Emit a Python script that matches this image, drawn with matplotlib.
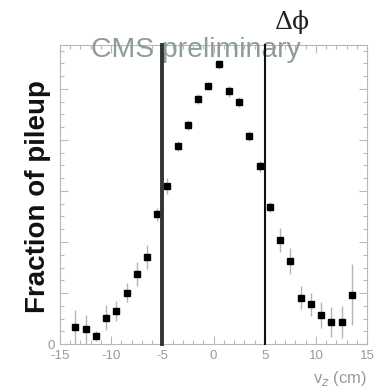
import matplotlib
matplotlib.use("Agg")
import matplotlib.pyplot as plt
from matplotlib.ticker import MultipleLocator, FixedLocator, FixedFormatter

# Pileup fraction per 1 cm bin of vertex z
vz = [-13.5, -12.5, -11.5, -10.5, -9.5, -8.5, -7.5, -6.5, -5.5, -4.5, -3.5, -2.5,
      -1.5, -0.5, 0.5, 1.5, 2.5, 3.5, 4.5, 5.5, 6.5, 7.5, 8.5, 9.5, 10.5, 11.5,
      12.5, 13.5]
frac = [0.33, 0.29, 0.16, 0.52, 0.65, 1.01, 1.37, 1.71, 2.54, 3.10, 3.88, 4.29,
        4.81, 5.05, 5.48, 4.95, 4.75, 4.08, 3.48, 2.68, 2.04, 1.63, 0.91, 0.78,
        0.57, 0.43, 0.43, 0.97]
err = [0.34, 0.28, 0.10, 0.24, 0.20, 0.18, 0.24, 0.24, 0.12, 0.16, 0.10, 0.10,
       0.10, 0.08, 0.08, 0.10, 0.10, 0.10, 0.10, 0.10, 0.24, 0.26, 0.23, 0.23,
       0.25, 0.30, 0.31, 0.59]

cut_lo, cut_hi = -5, 5
x_ticks = [-15, -10, -5, 0, 5, 10, 15]
x_ticklabels = ["-15", "-10", "-5", "0", "5", "10", "15"]
y_ticks = [0, 1, 2, 3, 4, 5]
y_ticklabels = ["0", "", "", "", "", ""]

grey_txt = "#9a9a9a"
frame_c = "#b8b8b8"

fig = plt.figure(figsize=(3.75, 3.87), dpi=100)
ax = fig.add_axes([0.16, 0.111, 0.819, 0.7726])

ax.errorbar(vz, frac, yerr=err, fmt="s", color="black", ms=4.2,
            ecolor="#b5b5b5", elinewidth=1.0, capsize=0, zorder=3)

# vertex-window cut lines, drawn above the overlay title
ax.axvline(cut_lo, color="#333333", lw=2.8, zorder=5, clip_on=False)
ax.axvline(cut_hi, color="#111111", lw=1.5, zorder=5, clip_on=False)

ax.set_xlim(-15, 15)
ax.set_ylim(0, 5.86)

ax.xaxis.set_major_locator(FixedLocator(x_ticks))
ax.xaxis.set_major_formatter(FixedFormatter(x_ticklabels))
ax.xaxis.set_minor_locator(MultipleLocator(1))
ax.yaxis.set_major_locator(FixedLocator(y_ticks))
ax.yaxis.set_major_formatter(FixedFormatter(y_ticklabels))
ax.yaxis.set_minor_locator(MultipleLocator(0.25))

ax.tick_params(which="both", direction="in", top=True, right=True,
               color=frame_c, labelcolor=grey_txt, labelsize=9.5,
               labelfontfamily="Liberation Sans")
ax.tick_params(which="major", length=6, width=0.8)
ax.tick_params(which="minor", length=3, width=0.8)
ax.tick_params(axis="x", pad=4)
ax.tick_params(axis="y", pad=4)
for s in ax.spines.values():
    s.set_color(frame_c)
    s.set_linewidth(0.8)

ax.text(0.523, 0.853, "CMS preliminary", color="#8d9b9b", fontsize=20.4,
        family="Liberation Sans", ha="center", va="baseline",
        transform=fig.transFigure, clip_on=False, zorder=4)
fig.text(0.777, 0.942, "\u0394\u03d5", color="#222222", fontsize=18,
         family="DejaVu Serif", ha="center", va="center")
fig.text(0.101, 0.491, "Fraction of pileup", rotation=90, fontsize=20,
         fontweight="bold", family="Liberation Sans", ha="center", va="center",
         color="#111111")
fig.text(0.979, 0.023, r"v$_z$ (cm)", color=grey_txt, fontsize=12,
         family="Liberation Sans", ha="right", va="center")

fig.savefig("out.png", dpi=100)
